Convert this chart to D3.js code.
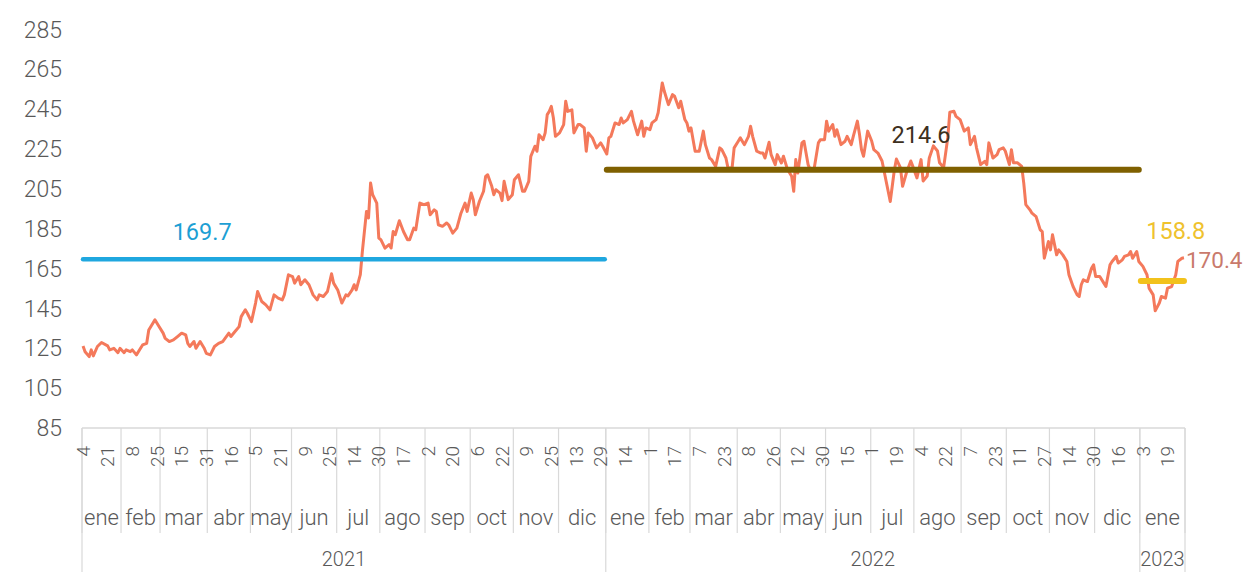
<!DOCTYPE html>
<html>
<head>
<meta charset="utf-8">
<script src="https://cdn.jsdelivr.net/npm/d3@7"></script>
<style>
  body { margin: 0; background: #fff; }
  svg { display: block; font-family: Roboto, 'Open Sans', sans-serif; }
</style>
</head>
<body>
<div id="chart"></div>
<script>
// Daily price chart, 2021 - Jan 2023, with the mean of each year

// Sessions: weekdays from firstDay to lastDay, less the days without a quote
const firstDay = '2021-01-04'
const lastDay = '2023-01-31'
const noQuote = ['2021-01-18', '2021-02-15', '2021-04-30', '2021-05-31', '2021-07-05']

const monthNames = ['ene', 'feb', 'mar', 'abr', 'may', 'jun', 'jul', 'ago', 'sep', 'oct', 'nov', 'dic']
const years = ['2021', '2022', '2023']

// day labels, one every 12 sessions
const tickStep = 12
const dayTicks = [4, 21, 8, 25, 15, 31, 16, 5, 21, 9, 25, 14, 30, 17, 2, 20, 6, 22, 9, 25, 13, 29,
  14, 1, 17, 7, 23, 8, 26, 12, 30, 15, 1, 19, 4, 22, 7, 23, 11, 27, 14, 30, 16, 3, 19]

const yTicks = [85, 105, 125, 145, 165, 185, 205, 225, 245, 265, 285]

// session number (0 = 4 Jan 2021) and price
const session = [0, 1, 3, 4, 5, 7, 9, 12, 13, 15, 17, 18, 20, 21, 23, 24, 26, 28, 29, 31, 32, 34, 35, 37, 39, 40,
  42, 44, 46, 48, 50, 51, 52, 54, 55, 57, 59, 60, 62, 64, 66, 68, 71, 72, 74, 76, 77, 79, 80, 82, 84, 85, 87, 89,
  91, 93, 95, 97, 98, 100, 102, 103, 105, 106, 108, 110, 112, 114, 115, 117, 119, 121, 122, 124, 126, 128, 129,
  131, 132, 133, 135, 136, 138, 139, 140, 141, 143, 144, 145, 147, 149, 150, 151, 152, 154, 156, 158, 159, 161,
  162, 164, 166, 168, 169, 171, 172, 173, 175, 177, 178, 180, 182, 184, 186, 187, 189, 190, 191, 193, 195, 196,
  197, 199, 200, 201, 203, 204, 205, 207, 209, 210, 212, 214, 215, 217, 218, 220, 221, 222, 224, 225, 226, 227,
  228, 229, 230, 232, 234, 235, 236, 238, 239, 241, 242, 244, 245, 246, 248, 250, 252, 253, 255, 256, 257, 259,
  261, 262, 263, 265, 267, 268, 270, 272, 273, 274, 276, 277, 279, 280, 282, 283, 285, 287, 288, 290, 291, 293,
  294, 295, 296, 298, 300, 302, 303, 305, 306, 308, 310, 311, 313, 314, 316, 317, 319, 320, 322, 324, 325, 326,
  328, 330, 331, 332, 334, 335, 337, 338, 340, 341, 343, 345, 346, 347, 348, 350, 351, 353, 354, 356, 358, 359,
  361, 362, 363, 365, 366, 367, 369, 371, 372, 374, 375, 377, 378, 379, 380, 382, 384, 385, 387, 389, 390, 391,
  393, 395, 396, 398, 399, 401, 403, 404, 406, 408, 409, 411, 412, 414, 416, 417, 419, 421, 422, 424, 425, 427,
  429, 431, 432, 434, 435, 437, 439, 440, 441, 443, 445, 446, 448, 449, 451, 452, 453, 455, 457, 458, 459, 461,
  462, 464, 466, 467, 468, 470, 471, 472, 474, 475, 477, 479, 480, 482, 484, 485, 486, 487, 489, 491, 492, 493,
  495, 497, 498, 500, 501, 503, 504, 506, 507, 509, 510, 511, 513, 514, 516, 518, 519, 521, 522, 524, 525, 527,
  528, 530, 532, 533, 535, 536]
const price = [126.2, 123.3, 120.8, 124.2, 121.2, 125.9, 127.9, 126.2, 124.2, 125, 122.8, 125, 122.8, 124.2, 123.3,
  124.2, 121.7, 125, 126.7, 127.5, 134.2, 137.6, 139.3, 135.9, 132.6, 130, 128.4, 129.2, 130.9, 132.6, 131.7,
  127.5, 125.9, 128.4, 125, 128.4, 125, 122.5, 121.7, 125.9, 127.5, 128.4, 132.6, 130.9, 133.4, 135.9, 140.9,
  144.3, 142.6, 138.4, 147.7, 153.5, 148.5, 146.8, 144.3, 151.8, 150.2, 149.3, 151.8, 161.9, 161, 157.7, 161,
  156.9, 159.4, 156.9, 151.8, 149.3, 151.8, 151, 153.5, 162.4, 157.7, 154.3, 147.7, 151.8, 151.3, 154.3, 156.9,
  154.3, 162, 173.6, 193.7, 190.4, 208, 202.1, 197.9, 180.3, 179.5, 175.3, 177, 175.3, 183.6, 182, 189, 183.6,
  179.5, 179.5, 185.3, 184.5, 197.9, 197.1, 197.9, 192, 194.5, 193.7, 187, 186.2, 187.9, 187, 182.8, 185.3,
  192.8, 197.9, 193.7, 202.9, 199.6, 192, 198.8, 203.8, 211.3, 212.1, 206.3, 202.1, 204.6, 202.9, 199.1, 208.8,
  199.6, 202.1, 209.6, 212.1, 203.8, 203.8, 208.8, 221.3, 226.4, 223.9, 232.2, 229.7, 233.1, 242.3, 243.9, 246.4,
  240.6, 231.4, 233.1, 237.3, 249, 243.9, 244.7, 233.1, 237.3, 237.3, 235.6, 223.9, 233.1, 230.6, 225.6, 228.1,
  226.4, 222.5, 230.6, 231.4, 238.1, 237.3, 240.6, 238.1, 239.8, 243.9, 239, 232.2, 239, 231.4, 235.6, 234.7,
  238.1, 239.8, 243.2, 258.2, 254, 247.3, 252.3, 251.5, 245.7, 249, 239.8, 238.1, 234, 235.6, 223.9, 223.9, 234,
  227.2, 220.5, 219.7, 216.3, 225.6, 224.7, 220.5, 215.5, 215.5, 225.6, 228.9, 230.6, 227.2, 231.4, 236.4,
  231.4, 223.9, 223, 223, 220.5, 228.4, 222.2, 217.2, 222.2, 218, 221.4, 214.7, 211.3, 203.8, 219.7, 213, 228.1,
  228.9, 217.2, 214.7, 215.5, 228.1, 229.7, 229.7, 239, 234, 237.3, 231.4, 234.7, 227.2, 228.9, 231.4, 227.2,
  231.4, 239, 232.6, 224.7, 221.4, 234, 228.9, 224.7, 223, 219, 214, 208.8, 198.7, 214.5, 220, 215.5, 206.3,
  213.5, 219, 216.3, 210.5, 219.7, 209, 211.5, 220.5, 226.6, 224, 218.1, 215.8, 230.6, 243.5, 244, 241.4, 239.8,
  234, 235.6, 227.2, 231.4, 225.6, 217.2, 218.8, 217.2, 228.1, 220.5, 222.2, 224.7, 225.6, 224, 217.2, 224.7,
  218.1, 218.1, 216.3, 207.9, 197.1, 194.5, 192.8, 191.1, 184.5, 183.6, 170.2, 178.6, 174.4, 182, 171.9, 174.4,
  171.9, 168.6, 161.9, 156, 151.8, 151, 156.9, 159.4, 158.5, 165.2, 166.9, 161, 161, 157.7, 156, 166.9, 168.6,
  171.1, 167.8, 169.4, 171.1, 171.9, 173.6, 170.2, 173.6, 168.6, 166.1, 161.9, 155.2, 151.8, 143.8, 147.7, 151,
  150.2, 155.2, 156, 161.9, 168.6, 170.2, 170.4]

// yearly means and the session whose point carries the label
const yearMeans = [169.7, 214.6, 158.8]
const meanLabelSession = [58, 408, 532]
const lastValue = 170.4

// ---- layout
const width = 1245
const height = 572
const plotLeft = 82
const plotRight = 1185
const axisY = 428
const monthRowBottom = 533

const svg = d3.select('#chart')
  .append('svg')
  .attr('width', width)
  .attr('height', height)

// trading sessions
const parseDay = d3.utcParse('%Y-%m-%d')
const fmtDay = d3.utcFormat('%Y-%m-%d')
const days = d3.utcDay.range(parseDay(firstDay), d3.utcDay.offset(parseDay(lastDay), 1))
  .filter(d => d.getUTCDay() % 6 !== 0 && !noQuote.includes(fmtDay(d)))

const x = d3.scaleLinear()
  .domain([0, days.length])
  .range([plotLeft, plotRight])

const y = d3.scaleLinear()
  .domain([85, 285])
  .range([axisY, 29.5])

const xc = i => x(i + 0.5) // centre of a session slot

// month and year groups
const groupBy = key => {
  const out = []
  days.forEach((d, i) => {
    const k = key(d)
    if (!out.length || out[out.length - 1].key !== k) out.push({ key: k, start: i, end: i + 1, date: d })
    else out[out.length - 1].end = i + 1
  })
  return out
}
const months = groupBy(d => d.getUTCFullYear() * 12 + d.getUTCMonth())
const yearGroups = groupBy(d => d.getUTCFullYear())

// y axis labels
svg.append('g')
  .selectAll('text')
  .data(yTicks)
  .enter().append('text')
  .attr('x', 62)
  .attr('y', d => y(d))
  .attr('dy', '0.35em')
  .attr('text-anchor', 'end')
  .attr('font-size', 23)
  .attr('font-weight', 300)
  .attr('fill', '#595959')
  .text(d => d)

// x axis: line, separators, labels
const axis = svg.append('g').attr('class', 'x-axis')

axis.append('line')
  .attr('x1', plotLeft).attr('x2', plotRight)
  .attr('y1', axisY).attr('y2', axisY)
  .attr('stroke', '#d9d9d9').attr('stroke-width', 1.5)

axis.selectAll('.month-sep')
  .data(months.map(m => m.start).concat([days.length]))
  .enter().append('line')
  .attr('class', 'month-sep')
  .attr('x1', d => x(d)).attr('x2', d => x(d))
  .attr('y1', axisY).attr('y2', monthRowBottom)
  .attr('stroke', '#d9d9d9').attr('stroke-width', 1.2)

axis.selectAll('.year-sep')
  .data(yearGroups.map(g => g.start).concat([days.length]))
  .enter().append('line')
  .attr('class', 'year-sep')
  .attr('x1', d => x(d)).attr('x2', d => x(d))
  .attr('y1', axisY).attr('y2', height)
  .attr('stroke', '#d9d9d9').attr('stroke-width', 1.2)

axis.selectAll('.day')
  .data(dayTicks)
  .enter().append('text')
  .attr('class', 'day')
  .attr('transform', (d, k) => `translate(${xc(k * tickStep)},446) rotate(-90)`)
  .attr('dy', '0.35em')
  .attr('text-anchor', 'end')
  .attr('font-size', 19)
  .attr('font-weight', 300)
  .attr('fill', '#595959')
  .text(d => d)

axis.selectAll('.month')
  .data(months)
  .enter().append('text')
  .attr('class', 'month')
  .attr('x', m => x((m.start + m.end) / 2))
  .attr('y', 525)
  .attr('text-anchor', 'middle')
  .attr('font-size', 22)
  .attr('font-weight', 300)
  .attr('fill', '#595959')
  .text(m => monthNames[m.date.getUTCMonth()])

axis.selectAll('.year')
  .data(yearGroups)
  .enter().append('text')
  .attr('class', 'year')
  .attr('x', g => x((g.start + g.end) / 2))
  .attr('y', 566)
  .attr('text-anchor', 'middle')
  .attr('font-size', 20)
  .attr('font-weight', 300)
  .attr('fill', '#595959')
  .text((g, i) => years[i])

// price line
const line = d3.line()
  .x((d, i) => xc(session[i]))
  .y(d => y(d))

svg.append('path')
  .datum(price)
  .attr('d', line)
  .attr('fill', 'none')
  .attr('stroke', '#f4795b')
  .attr('stroke-width', 3)
  .attr('stroke-linejoin', 'round')

// yearly mean lines
const meanColors = ['#1fa7df', '#7f6000', '#f2c21c']
const labelColors = ['#1d9fd4', '#3d3020', '#efc22e']
const meanWidths = [4.5, 6, 6]
const labelLift = [19, 27, 42]

yearGroups.forEach((g, i) => {
  svg.append('line')
    .attr('x1', xc(g.start)).attr('x2', xc(g.end - 1))
    .attr('y1', y(yearMeans[i])).attr('y2', y(yearMeans[i]))
    .attr('stroke', meanColors[i])
    .attr('stroke-width', meanWidths[i])
    .attr('stroke-linecap', 'round')

  svg.append('text')
    .attr('x', xc(meanLabelSession[i]))
    .attr('y', y(yearMeans[i]) - labelLift[i])
    .attr('text-anchor', 'middle')
    .attr('font-size', 23.5)
    .attr('fill', labelColors[i])
    .text(yearMeans[i].toFixed(1))
})

// last value label
svg.append('text')
  .attr('x', xc(session[session.length - 1]) + 2)
  .attr('y', y(lastValue) + 10)
  .attr('font-size', 22.5)
  .attr('fill', '#c97a6c')
  .text(lastValue.toFixed(1))
</script>
</body>
</html>
